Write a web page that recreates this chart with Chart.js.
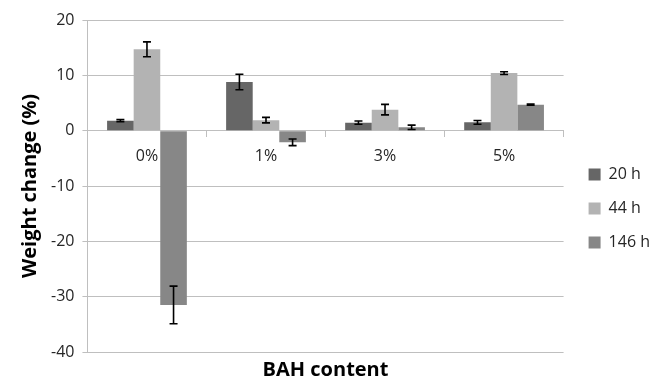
<!DOCTYPE html>
<html>
<head>
<meta charset="utf-8">
<script src="https://cdn.jsdelivr.net/npm/chart.js@4"></script>
<style>
  html, body { margin: 0; padding: 0; background: #fff; }
  #wrap { width: 662px; height: 382px; }
</style>
</head>
<body>
<div id="wrap"><canvas id="weightChart"></canvas></div>
<script>
    // BAH content categories and weight change (%) per exposure time
    var bahLabels = ['0%', '1%', '3%', '5%'];
    var h20 = [1.8, 8.8, 1.45, 1.5];
    var h20Err = [0.2, 1.4, 0.3, 0.35];
    var h44 = [14.7, 1.9, 3.8, 10.4];
    var h44Err = [1.35, 0.5, 0.95, 0.25];
    var h146 = [-31.5, -2.1, 0.6, 4.7];
    var h146Err = [3.4, 0.6, 0.4, 0.1];

    var gridGray = '#bfbfbf';
    Chart.defaults.font.family = '"Open Sans", sans-serif';
    Chart.defaults.color = '#262626';

    // simple error bar drawer using the bar elements and the y scale
    var errorBars = {
        id: 'errorBars',
        afterDatasetsDraw: function (chart) {
            var ctx = chart.ctx;
            var yScale = chart.scales.y;
            ctx.save();
            ctx.strokeStyle = '#000';
            ctx.lineWidth = 1.6;
            chart.data.datasets.forEach(function (ds, di) {
                var meta = chart.getDatasetMeta(di);
                meta.data.forEach(function (bar, i) {
                    var v = ds.data[i], e = ds.errors[i];
                    var yTop = yScale.getPixelForValue(v + e);
                    var yBot = yScale.getPixelForValue(v - e);
                    var x = bar.x, cap = 4;
                    ctx.beginPath();
                    ctx.moveTo(x, yTop); ctx.lineTo(x, yBot);
                    ctx.moveTo(x - cap, yTop); ctx.lineTo(x + cap, yTop);
                    ctx.moveTo(x - cap, yBot); ctx.lineTo(x + cap, yBot);
                    ctx.stroke();
                });
            });
            ctx.restore();
        }
    };

    var ctx = document.getElementById('weightChart').getContext('2d');
    new Chart(ctx, {
        type: 'bar',
        data: {
            labels: bahLabels,
            datasets: [
                { label: '20 h', data: h20, errors: h20Err, backgroundColor: '#666666' },
                { label: '44 h', data: h44, errors: h44Err, backgroundColor: '#b3b3b3' },
                { label: '146 h', data: h146, errors: h146Err, backgroundColor: '#878787' }
            ]
        },
        options: {
            responsive: true,
            maintainAspectRatio: false,
            animation: false,
            datasets: {
                bar: { categoryPercentage: 0.67, barPercentage: 1.0 }
            },
            layout: { padding: { left: 8, right: 2, top: 20, bottom: 0 } },
            plugins: {
                legend: {
                    position: 'right',
                    title: { display: true, text: ' ', font: { size: 10 }, padding: { top: 3, bottom: 0 } },
                    labels: {
                        boxWidth: 12, boxHeight: 12, padding: 18,
                        font: { size: 16 }, color: '#262626'
                    }
                },
                tooltip: { enabled: false }
            },
            scales: {
                x: {
                    position: 'bottom',
                    grid: { display: false, drawTicks: false },
                    border: { display: false },
                    ticks: { display: false },
                    title: {
                        display: true, text: 'BAH content',
                        font: { size: 20, weight: 'bold' }, color: '#000',
                        padding: { top: 6, bottom: 0 }
                    }
                },
                x2: {
                    type: 'category',
                    labels: bahLabels,
                    position: { y: 0 },
                    offset: true,
                    grid: { drawOnChartArea: false, offset: true, tickLength: 6, color: gridGray },
                    border: { color: gridGray },
                    ticks: { font: { size: 16 }, padding: 10, color: '#262626' }
                },
                y: {
                    min: -40, max: 20,
                    ticks: { stepSize: 10, font: { size: 16 }, padding: 8, color: '#262626' },
                    grid: { color: gridGray, tickLength: 5 },
                    border: { color: gridGray },
                    title: {
                        display: true, text: 'Weight change (%)',
                        font: { size: 20, weight: 'bold' }, color: '#000',
                        padding: { top: 10, bottom: 1 }
                    }
                },
                // empty spacer between plot and legend
                gap: {
                    type: 'linear',
                    position: 'right',
                    grid: { display: false },
                    border: { display: false },
                    ticks: { display: false },
                    afterFit: function (scale) { scale.width = 7; }
                }
            }
        },
        plugins: [errorBars]
    });
</script>
</body>
</html>
